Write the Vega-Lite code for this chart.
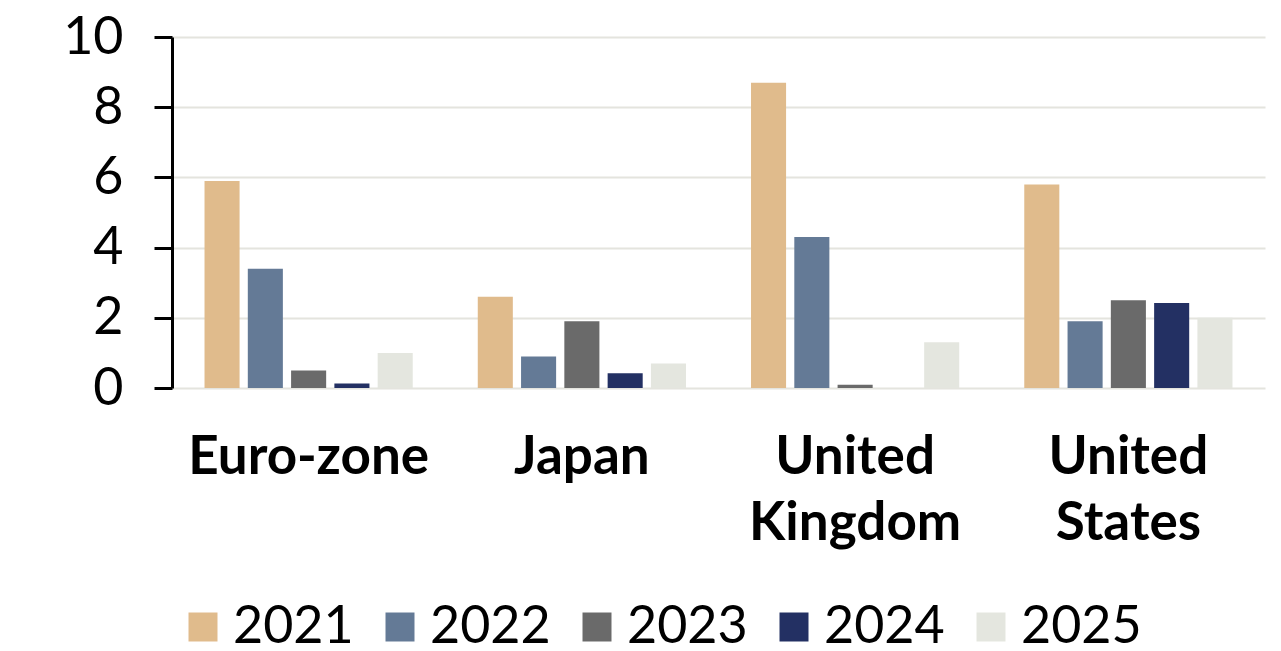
{
  "$schema": "https://vega.github.io/schema/vega-lite/v6.json",
  "autosize": "none",
  "width": 1093,
  "height": 351,
  "padding": {"left": 172, "top": 37, "right": 16, "bottom": 263},
  "background": "white",
  "config": {
    "font": "Lato",
    "view": {"stroke": null},
    "axis": {"labelColor": "black", "labelFont": "Lato"}
  },
  "data": {
    "values": [
      {"region": "Euro-zone", "year": "2021", "value": 5.9},
      {"region": "Euro-zone", "year": "2022", "value": 3.4},
      {"region": "Euro-zone", "year": "2023", "value": 0.5},
      {"region": "Euro-zone", "year": "2024", "value": 0.13},
      {"region": "Euro-zone", "year": "2025", "value": 1.0},
      {"region": "Japan", "year": "2021", "value": 2.6},
      {"region": "Japan", "year": "2022", "value": 0.9},
      {"region": "Japan", "year": "2023", "value": 1.9},
      {"region": "Japan", "year": "2024", "value": 0.42},
      {"region": "Japan", "year": "2025", "value": 0.7},
      {"region": "United Kingdom", "year": "2021", "value": 8.7},
      {"region": "United Kingdom", "year": "2022", "value": 4.3},
      {"region": "United Kingdom", "year": "2023", "value": 0.09},
      {"region": "United Kingdom", "year": "2024", "value": 0},
      {"region": "United Kingdom", "year": "2025", "value": 1.3},
      {"region": "United States", "year": "2021", "value": 5.8},
      {"region": "United States", "year": "2022", "value": 1.9},
      {"region": "United States", "year": "2023", "value": 2.5},
      {"region": "United States", "year": "2024", "value": 2.42},
      {"region": "United States", "year": "2025", "value": 2.0}
    ]
  },
  "mark": {"type": "bar"},
  "encoding": {
    "x": {
      "field": "region",
      "type": "nominal",
      "sort": null,
      "scale": {"paddingInner": 0.238, "paddingOuter": 0.119},
      "axis": {
        "title": null,
        "domain": false,
        "ticks": false,
        "tickSize": 0,
        "labelAngle": 0,
        "labelFontSize": 53,
        "labelFontWeight": "bold",
        "labelPadding": 43,
        "labelLineHeight": 66,
        "labelBaseline": "top",
        "labelLimit": 500,
        "labelExpr": "split(datum.label, ' ')",
        "grid": false
      }
    },
    "xOffset": {
      "field": "year",
      "type": "nominal",
      "scale": {"paddingInner": 0.19, "paddingOuter": 0}
    },
    "y": {
      "field": "value",
      "type": "quantitative",
      "scale": {"domain": [0, 10], "nice": false},
      "axis": {
        "title": null,
        "values": [0, 2, 4, 6, 8, 10],
        "domainColor": "black",
        "domainWidth": 3,
        "tickColor": "black",
        "tickWidth": 3,
        "tickSize": 18,
        "labelFontSize": 52,
        "labelPadding": 31,
        "gridColor": "#e4e4de",
        "gridWidth": 2
      }
    },
    "color": {
      "field": "year",
      "type": "nominal",
      "scale": {
        "domain": ["2021", "2022", "2023", "2024", "2025"],
        "range": ["#e0bb8c", "#647a96", "#6a6a6a", "#233063", "#e4e6df"]
      },
      "legend": {
        "title": null,
        "orient": "none",
        "direction": "horizontal",
        "legendX": 5,
        "legendY": 564,
        "symbolType": "square",
        "symbolSize": 841,
        "symbolStrokeWidth": 0,
        "labelFontSize": 52,
        "labelFont": "Lato",
        "labelColor": "black",
        "labelOffset": 4,
        "columnPadding": 20,
        "labelLimit": 300
      }
    }
  }
}
